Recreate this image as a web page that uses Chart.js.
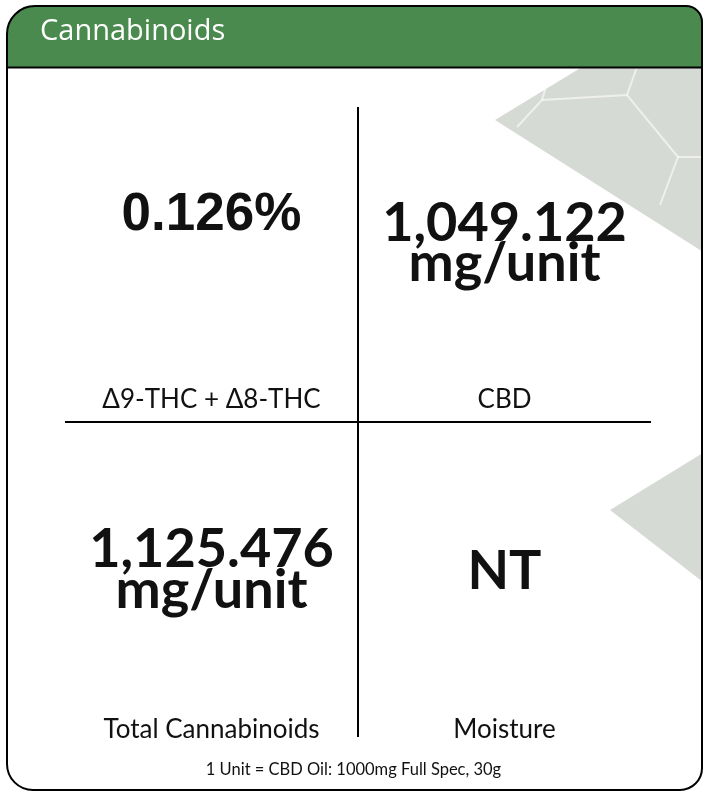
<!DOCTYPE html>
<html>
<head>
<meta charset="utf-8">
<script src="https://cdn.jsdelivr.net/npm/chart.js@4.4.1/dist/chart.umd.min.js"></script>
<style>
  html, body { margin: 0; padding: 0; background: #fff; }
  canvas { display: block; }
</style>
</head>
<body>
<canvas id="panel" width="703" height="791"></canvas>
<script>
// Dados do painel
const panelTitle = 'Cannabinoids';
const cellLabels = ['Δ9-THC + Δ8-THC', 'CBD', 'Total Cannabinoids', 'Moisture'];
const cellValues = ['0.126%', '1,049.122', '1,125.476', 'NT'];
const cellUnits = ['', 'mg/unit', 'mg/unit', ''];
const cellColumns = [0, 1, 0, 1];
const cellRows = [0, 0, 1, 1];
const footnote = '1 Unit = CBD Oil: 1000mg Full Spec, 30g';

// contorno do cartão
function cardPath(c) {
    const l = 7, t = 6, r = 702, b = 790;
    const tl = 28, tr = 16, br = 22, bl = 26;
    c.beginPath();
    c.moveTo(l + tl, t);
    c.lineTo(r - tr, t);
    c.arcTo(r, t, r, t + tr, tr);
    c.lineTo(r, b - br);
    c.arcTo(r, b, r - br, b, br);
    c.lineTo(l + bl, b);
    c.arcTo(l, b, l, b - bl, bl);
    c.lineTo(l, t + tl);
    c.arcTo(l, t, l + tl, t, tl);
    c.closePath();
}

function poly(c, pts) {
    c.beginPath();
    c.moveTo(pts[0][0], pts[0][1]);
    pts.slice(1).forEach(p => c.lineTo(p[0], p[1]));
    c.closePath();
}

// fundo decorativo (hexágonos cinza)
function drawDecor(c) {
    const top = [[495, 120], [582, 67], [703, 67], [703, 252]];
    const low = [[610, 510], [703, 453], [703, 582]];
    c.fillStyle = '#d6dad4';
    poly(c, top); c.fill();
    poly(c, low); c.fill();

    c.save();
    poly(c, top); c.clip();
    c.strokeStyle = 'rgba(255,255,255,0.6)';
    c.lineWidth = 2;
    const lines = [
        [[517, 127], [542, 100], [627, 95], [678, 157], [660, 205]],
        [[627, 95], [637, 67]],
        [[542, 100], [552, 67]],
        [[678, 157], [703, 157]]
    ];
    lines.forEach(pts => {
        c.beginPath();
        c.moveTo(pts[0][0], pts[0][1]);
        pts.slice(1).forEach(p => c.lineTo(p[0], p[1]));
        c.stroke();
    });
    c.restore();
}

const cardPlugin = {
    id: 'card',
    beforeDraw(chart) {
        const c = chart.ctx;
        c.save();
        c.fillStyle = '#fff';
        c.fillRect(0, 0, chart.width, chart.height);
        cardPath(c);
        c.clip();
        drawDecor(c);
        c.fillStyle = '#4a8a4e';
        c.fillRect(0, 0, chart.width, 67);
        c.restore();
    },
    afterDraw(chart) {
        const c = chart.ctx;
        const o = chart.options.plugins.card;
        c.save();
        // borda e linha do cabeçalho
        c.strokeStyle = '#000';
        c.lineWidth = 2;
        cardPath(c);
        c.stroke();
        c.beginPath();
        c.moveTo(7, 67.5);
        c.lineTo(702, 67.5);
        c.stroke();

        // título
        c.fillStyle = '#fff';
        c.textAlign = 'left';
        c.textBaseline = 'alphabetic';
        c.font = '29px "Open Sans", sans-serif';
        c.fillText(panelTitle, 40, 40);

        // valores e rótulos de cada célula
        const meta = chart.getDatasetMeta(0);
        c.fillStyle = '#111';
        c.textAlign = 'center';
        meta.data.forEach((pt, i) => {
            const off = o.valueOffsets[i];
            c.font = o.valueFonts[i];
            c.fillText(cellValues[i], pt.x, pt.y + off[0]);
            if (cellUnits[i]) {
                c.fillText(cellUnits[i], pt.x, pt.y + off[1]);
            }
            c.font = '26px Lato, sans-serif';
            c.fillText(cellLabels[i], pt.x, pt.y + o.labelOffsets[cellRows[i]]);
        });

        // nota de rodapé
        c.font = '16.5px Lato, sans-serif';
        c.fillText(footnote, chart.width / 2 + 2, 775);
        c.restore();
    }
};

const dividerGrid = {
    color: ctx => ctx.tick && ctx.tick.value === 1 ? '#000' : 'rgba(0,0,0,0)',
    lineWidth: 2,
    drawTicks: false
};

new Chart(document.getElementById('panel'), {
    type: 'scatter',
    data: {
        datasets: [{
            label: panelTitle,
            data: cellValues.map((v, i) => ({ x: cellColumns[i] + 0.5, y: cellRows[i] + 0.5 })),
            pointRadius: 0,
            pointHoverRadius: 0
        }]
    },
    options: {
        responsive: false,
        animation: false,
        events: [],
        layout: { padding: { left: 65, right: 52, top: 107, bottom: 54 } },
        scales: {
            x: {
                type: 'linear', min: 0, max: 2,
                ticks: { display: false, stepSize: 1 },
                border: { display: false },
                grid: dividerGrid
            },
            y: {
                type: 'linear', min: 0, max: 2, reverse: true,
                ticks: { display: false, stepSize: 1 },
                border: { display: false },
                grid: dividerGrid
            }
        },
        plugins: {
            legend: { display: false },
            tooltip: { enabled: false },
            card: {
                valueFonts: [
                    'bold 53px "Liberation Sans", Arial, sans-serif',
                    'bold 54px Lato, sans-serif',
                    'bold 54px Lato, sans-serif',
                    'bold 54px Lato, sans-serif'
                ],
                valueOffsets: [[-35], [-24, 16], [-13, 28], [9]],
                labelOffsets: [143, 158]
            }
        }
    },
    plugins: [cardPlugin]
});
</script>
</body>
</html>
